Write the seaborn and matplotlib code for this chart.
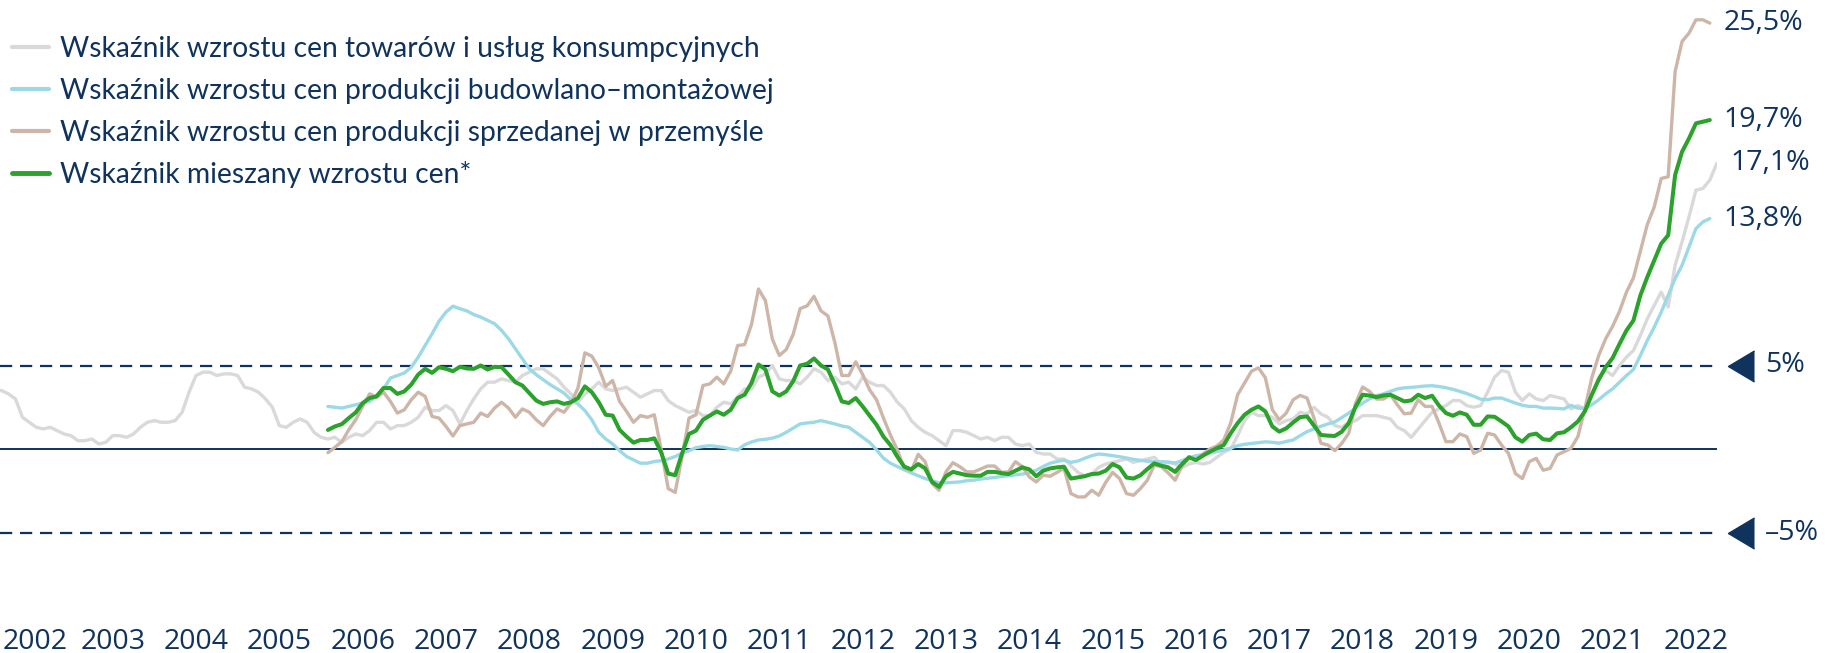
import numpy as np
import pandas as pd
import seaborn as sns
import matplotlib.pyplot as plt
import matplotlib.transforms as mtransforms
from matplotlib.lines import Line2D

#----- Style -----
sns.set_theme(style="white")
plt.rcParams['font.family'] = ['Lato', 'DejaVu Sans']

NAVY = '#0f335d'
NUM_FONT = ['Open Sans', 'DejaVu Sans']

#----- Data (% r/r, monthly) -----
# CPI: Jan 2002 - Sep 2022
cpi = [3.5, 3.5, 3.3, 3.0, 1.9, 1.6, 1.3, 1.2, 1.3, 1.1, 0.9, 0.8,
       0.5, 0.5, 0.6, 0.3, 0.4, 0.8, 0.8, 0.7, 0.9, 1.3, 1.6, 1.7,
       1.6, 1.6, 1.7, 2.2, 3.4, 4.4, 4.6, 4.6, 4.4, 4.5, 4.5, 4.4,
       3.7, 3.6, 3.4, 3.0, 2.5, 1.4, 1.3, 1.6, 1.8, 1.6, 1.0, 0.7,
       0.6, 0.7, 0.4, 0.7, 0.9, 0.8, 1.1, 1.6, 1.6, 1.2, 1.4, 1.4,
       1.6, 1.9, 2.5, 2.3, 2.3, 2.6, 2.3, 1.5, 2.3, 3.0, 3.6, 4.0,
       4.0, 4.2, 4.1, 4.0, 4.4, 4.6, 4.8, 4.8, 4.5, 4.2, 3.7, 3.3,
       2.8, 3.3, 3.6, 4.0, 3.6, 3.5, 3.6, 3.7, 3.4, 3.1, 3.3, 3.5,
       3.5, 2.9, 2.6, 2.4, 2.2, 2.3, 2.0, 2.0, 2.5, 2.8, 2.7, 3.1,
       3.6, 3.6, 4.3, 4.5, 5.0, 4.2, 4.1, 4.1, 3.9, 4.3, 4.8, 4.6,
       4.1, 4.3, 3.9, 4.0, 3.6, 4.3, 4.0, 3.8, 3.8, 3.4, 2.8, 2.4,
       1.7, 1.3, 1.0, 0.8, 0.5, 0.2, 1.1, 1.1, 1.0, 0.8, 0.6, 0.7,
       0.5, 0.7, 0.7, 0.3, 0.2, 0.3, -0.2, -0.3, -0.3, -0.6, -0.6, -1.0,
       -1.4, -1.6, -1.5, -1.1, -0.9, -0.8, -0.7, -0.6, -0.8, -0.7, -0.6, -0.5,
       -0.9, -0.8, -0.9, -1.1, -0.9, -0.8, -0.9, -0.8, -0.5, -0.2, 0.0, 0.8,
       1.7, 2.2, 2.0, 2.0, 1.9, 1.5, 1.7, 1.8, 2.2, 2.1, 2.5, 2.1,
       1.9, 1.4, 1.3, 1.6, 1.7, 2.0, 2.0, 2.0, 1.9, 1.8, 1.3, 1.1,
       0.7, 1.2, 1.7, 2.2, 2.4, 2.6, 2.9, 2.9, 2.6, 2.5, 2.6, 3.4,
       4.3, 4.7, 4.6, 3.4, 2.9, 3.3, 3.0, 2.9, 3.2, 3.1, 3.0, 2.4,
       2.6, 2.4, 3.2, 4.3, 4.7, 4.4, 5.0, 5.5, 5.9, 6.8, 7.8, 8.6,
       9.4, 8.5, 11.0, 12.4, 13.9, 15.5, 15.6, 16.1, 17.1]

# Jan 2006 - Aug 2022
budowlane = [2.55, 2.5, 2.45, 2.55, 2.65, 2.75, 2.85, 3.2, 3.6, 4.25, 4.4, 4.55,
             4.9, 5.5, 6.2, 6.9, 7.65, 8.2, 8.55, 8.4, 8.27, 8.05, 7.9, 7.7,
             7.5, 7.1, 6.6, 6.0, 5.4, 4.8, 4.45, 4.15, 3.85, 3.6, 3.35, 2.95,
             2.7, 2.3, 1.75, 1.0, 0.6, 0.3, -0.1, -0.45, -0.65, -0.85, -0.85, -0.75,
             -0.7, -0.6, -0.45, -0.25, -0.1, 0.08, 0.15, 0.2, 0.15, 0.1, 0.0, -0.06,
             0.25, 0.42, 0.54, 0.58, 0.65, 0.78, 1.0, 1.25, 1.5, 1.56, 1.6, 1.7,
             1.6, 1.5, 1.38, 1.3, 1.0, 0.7, 0.4, -0.05, -0.55, -0.85, -1.05, -1.25,
             -1.43, -1.6, -1.77, -1.9, -2.03, -2.03, -2.0, -1.97, -1.9, -1.87, -1.8, -1.75,
             -1.7, -1.65, -1.6, -1.55, -1.5, -1.42, -1.27, -1.05, -0.85, -0.75, -0.67, -0.8,
             -0.72, -0.55, -0.4, -0.3, -0.34, -0.4, -0.46, -0.54, -0.62, -0.68, -0.73, -0.76,
             -0.76, -0.78, -0.84, -0.7, -0.52, -0.4, -0.33, -0.25, -0.15, -0.06, 0.06, 0.2,
             0.28, 0.33, 0.38, 0.43, 0.4, 0.35, 0.45, 0.54, 0.8, 1.04, 1.2, 1.36,
             1.5, 1.62, 1.88, 2.15, 2.45, 2.75, 3.0, 3.2, 3.3, 3.45, 3.6, 3.66,
             3.69, 3.73, 3.77, 3.79, 3.74, 3.67, 3.57, 3.45, 3.32, 3.16, 2.98, 2.95,
             3.05, 3.05, 2.9, 2.75, 2.62, 2.55, 2.55, 2.45, 2.45, 2.43, 2.4, 2.62,
             2.45, 2.42, 2.65, 2.95, 3.3, 3.6, 4.0, 4.4, 4.76, 5.6, 6.5, 7.3,
             8.2, 9.2, 10.2, 11.0, 12.1, 13.2, 13.6, 13.8]

przemysl = [-0.22, 0.1, 0.44, 1.15, 1.75, 2.55, 3.3, 3.1, 3.4, 2.85, 2.15, 2.35,
            2.95, 3.4, 3.15, 1.95, 1.85, 1.35, 0.78, 1.4, 1.5, 1.6, 2.15, 1.95,
            2.45, 2.8, 2.45, 1.9, 2.4, 2.2, 1.75, 1.4, 1.95, 2.4, 2.2, 2.75,
            3.65, 5.76, 5.56, 4.86, 3.75, 4.1, 2.85, 2.25, 1.6, 2.0, 1.9, 2.05,
            -0.06, -2.37, -2.6, -0.46, 1.85, 2.05, 3.8, 3.9, 4.3, 3.9, 4.66, 6.2,
            6.25, 7.47, 9.58, 8.88, 6.57, 5.6, 5.96, 6.87, 8.41, 8.57, 9.14, 8.27,
            7.97, 6.37, 4.4, 4.4, 5.22, 4.46, 3.55, 2.95, 1.85, 0.84, -0.06, -1.16,
            -1.3, -0.32, -0.76, -2.07, -2.47, -1.37, -0.82, -1.06, -1.37, -1.37, -1.2, -1.02,
            -1.02, -1.4, -1.37, -0.76, -1.06, -1.67, -1.97, -1.57, -1.63, -1.4, -1.16, -2.67,
            -2.87, -2.87, -2.47, -2.77, -2.0, -1.4, -1.77, -2.67, -2.77, -2.37, -1.87, -0.96,
            -1.06, -1.43, -1.87, -1.02, -0.46, -0.66, -0.3, 0.0, 0.18, 0.54, 1.55, 3.25,
            3.96, 4.66, 4.86, 4.26, 2.35, 1.75, 2.15, 2.95, 3.21, 3.05, 1.85, 0.34,
            0.24, -0.1, 0.34, 0.94, 2.75, 3.71, 3.45, 2.99, 2.99, 3.25, 2.65, 2.11,
            2.15, 2.95, 2.55, 2.55, 1.55, 0.44, 0.44, 0.9, 0.74, -0.26, -0.06, 0.94,
            0.84, 0.24, -0.26, -1.47, -1.77, -0.76, -0.56, -1.27, -1.16, -0.36, -0.16, 0.04,
            0.74, 2.4, 4.26, 5.6, 6.6, 7.35, 8.25, 9.4, 10.25, 11.85, 13.45, 14.5,
            16.2, 16.3, 22.6, 24.4, 24.9, 25.7, 25.7, 25.5]

mieszany = [1.14, 1.35, 1.49, 1.85, 2.19, 2.75, 3.05, 3.15, 3.65, 3.65, 3.3, 3.45,
            3.86, 4.46, 4.8, 4.56, 4.9, 4.8, 4.66, 4.92, 4.82, 4.8, 5.0, 4.76,
            4.92, 4.9, 4.46, 4.0, 3.8, 3.35, 2.9, 2.7, 2.8, 2.85, 2.7, 2.8,
            3.05, 3.75, 3.4, 2.8, 2.05, 2.0, 1.15, 0.74, 0.38, 0.54, 0.54, 0.64,
            -0.22, -1.47, -1.57, -0.26, 0.9, 1.1, 1.75, 2.0, 2.25, 2.05, 2.35, 3.05,
            3.25, 3.96, 5.06, 4.76, 3.45, 3.2, 3.45, 4.06, 5.0, 5.1, 5.42, 5.0,
            4.76, 3.86, 2.85, 2.75, 3.05, 2.55, 2.0, 1.45, 0.74, 0.24, -0.46, -1.06,
            -1.22, -0.9, -1.16, -1.97, -2.27, -1.63, -1.37, -1.47, -1.57, -1.6, -1.6, -1.37,
            -1.37, -1.45, -1.5, -1.3, -1.1, -1.22, -1.63, -1.3, -1.16, -1.1, -1.06, -1.77,
            -1.7, -1.63, -1.5, -1.47, -1.3, -0.9, -1.1, -1.71, -1.77, -1.57, -1.2, -0.86,
            -1.0, -1.1, -1.37, -0.9, -0.5, -0.66, -0.4, -0.16, 0.05, 0.24, 0.94, 1.55,
            2.05, 2.35, 2.55, 2.25, 1.35, 1.04, 1.24, 1.59, 1.91, 1.95, 1.39, 0.84,
            0.8, 0.78, 1.04, 1.55, 2.55, 3.25, 3.2, 3.11, 3.2, 3.25, 3.05, 2.85,
            2.91, 3.25, 3.05, 3.19, 2.6, 2.15, 1.99, 2.19, 2.05, 1.45, 1.45, 1.95,
            1.93, 1.65, 1.35, 0.7, 0.44, 0.84, 0.92, 0.58, 0.54, 0.94, 1.0, 1.3,
            1.65, 2.25, 3.25, 4.15, 4.9, 5.45, 6.3, 7.1, 7.7, 9.2, 10.3, 11.3,
            12.3, 12.8, 16.4, 17.8, 18.6, 19.5, 19.6, 19.7]

years = list(range(2002, 2023))

labels = ['Wskaźnik wzrostu cen towarów i usług konsumpcyjnych',
          'Wskaźnik wzrostu cen produkcji budowlano–montażowej',
          'Wskaźnik wzrostu cen produkcji sprzedanej w przemyśle',
          'Wskaźnik mieszany wzrostu cen*']
starts = [2002, 2006, 2006, 2006]
values = [cpi, budowlane, przemysl, mieszany]
colors = ['#d9d9d9', '#9cd9e6', '#cdb5a7', '#2ba22b']
widths = [2.4, 2.4, 2.4, 2.9]

frames = []
for name, start, vals in zip(labels, starts, values):
    frames.append(pd.DataFrame({'t': start + np.arange(len(vals)) / 12.0,
                                'v': vals, 'seria': name}))
df = pd.concat(frames, ignore_index=True)

#----- Figure -----
W, H = 1825, 653
fig = plt.figure(figsize=(W / 100, H / 100), dpi=100)
ax = fig.add_axes([0, 1 - 620 / H, 1717 / W, 620 / H])

px_year = 83.33
t0 = 2004 + 5 / 12  # x position 196 px
ax.set_xlim(t0 - 196 / px_year, t0 + (1717 - 196) / px_year)
ax.set_ylim(-(620 - 449) / 16.7, 449 / 16.7)

ax.axhline(0, color=NAVY, lw=1.4, zorder=1)
for lvl in (5, -5):
    ax.axhline(lvl, color=NAVY, lw=1.6, dashes=(5.5, 3.5), zorder=1)

for name, col, lw in zip(labels, colors, widths):
    sns.lineplot(data=df[df['seria'] == name], x='t', y='v', color=col,
                 linewidth=lw, estimator=None, sort=False, legend=False, ax=ax,
                 zorder=3)

# end value labels
for name, vals in zip(labels, values):
    sub = df[df['seria'] == name]
    last_t, last_v = sub['t'].iloc[-1], sub['v'].iloc[-1]
    txt = f"{last_v:.1f}".replace('.', ',') + '%'
    ax.annotate(txt, xy=(last_t, last_v), xytext=(10, 0), textcoords='offset points',
                va='center', ha='left', fontsize=20.5, color=NAVY, family=NUM_FONT,
                annotation_clip=False)

# triangles and 5% / -5% markers
trans = mtransforms.blended_transform_factory(fig.transFigure, ax.transData)
tri = [(0.84, 1), (-0.84, 0), (0.84, -1)]
ax.plot([1741 / W, 1741 / W], [5, -5], ls='none', marker=tri, ms=22.3, color=NAVY,
        transform=trans, clip_on=False)
ax.text(1765 / W, 5, '5%', transform=trans, va='center', ha='left', fontsize=20.5,
        color=NAVY, family=NUM_FONT)
ax.text(1765 / W, -5, '–5%', transform=trans, va='center', ha='left', fontsize=20.5,
        color=NAVY, family=NUM_FONT)

# axes
ax.set_xticks([y + 5 / 12 for y in years])
ax.set_xticklabels([str(y) for y in years])
ax.set_yticks([])
ax.tick_params(axis='x', length=0, pad=6, labelsize=20.5, labelcolor=NAVY)
for lab in ax.get_xticklabels():
    lab.set_family(NUM_FONT)
first = ax.get_xticklabels()[0]
first.set_horizontalalignment('left')
first.set_transform(first.get_transform() +
                    mtransforms.ScaledTranslation(-27 / 100, 0, fig.dpi_scale_trans))
ax.set_xlabel('')
ax.set_ylabel('')
for s in ax.spines.values():
    s.set_visible(False)

# legend
handles = [Line2D([0], [0], color=c, lw=lw + 0.6, solid_capstyle='round')
           for c, lw in zip(colors, widths)]
leg = ax.legend(handles, labels, loc='upper left', bbox_to_anchor=(12 / W, 1 - 36 / H),
                bbox_transform=fig.transFigure, frameon=False, fontsize=20.3,
                handlelength=1.31, handletextpad=0.41, labelspacing=0.56,
                borderpad=0, borderaxespad=0)
for t in leg.get_texts():
    t.set_color(NAVY)

fig.savefig('out.png', dpi=100, facecolor='white')
